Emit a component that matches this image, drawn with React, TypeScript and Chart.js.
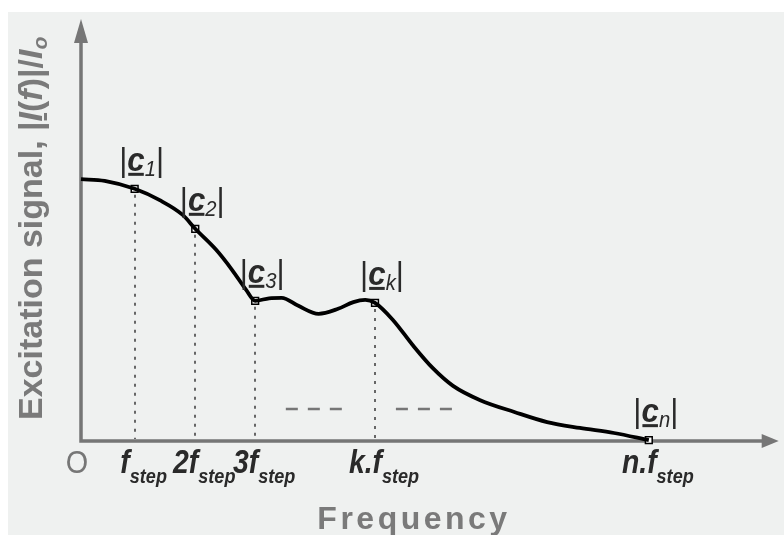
import React, { useEffect, useRef } from "react";
import { Chart, registerables } from "chart.js";

Chart.register(...registerables);

// Spectrum envelope (x in % of axis length, y in % of axis height)
const curveX = [0, 3.4, 7.7, 11.3, 14.6, 16.4, 19.4, 21.7, 23.7, 25.0, 27.0, 28.8, 31.2, 34.1, 36.9, 39.1, 40.8, 42.2, 44.8, 47.6, 50.5, 53.4, 57.3, 62.2, 66.9, 71.6, 76.5, 81.5];
const curveY = [62.2, 61.8, 59.9, 57.2, 53.7, 50.4, 45.4, 40.6, 35.9, 33.3, 33.9, 34.0, 32.1, 30.2, 31.4, 33.0, 33.5, 32.8, 28.7, 22.8, 17.3, 13.1, 9.7, 6.9, 4.5, 3.1, 1.9, 0.2];

// Harmonic sample points |c_1|, |c_2|, |c_3|, |c_k|, |c_n|
const harmonicX = [7.7, 16.4, 25.0, 42.2, 81.5];
const harmonicY = [59.9, 50.4, 33.3, 32.8, 0.2];
const harmonicSubs = ["1", "2", "3", "k", "n"];

// Tick labels: prefix + f_step
const tickPrefixes = ["", "2", "3", "k.", "n."];
const originLabel = "O";

// "- - -" ellipsis segments
const dashStartX = [29.4, 45.2];
const dashEndX = [37.8, 53.9];
const dashY = 7.6;

const xTitle = "Frequency";

const FAM = '"Liberation Sans", Arial, sans-serif';
const AXIS = "#767676";
const TXT = "#2a2a2a";
const BG = "#eff1f0";

type Run = { text: string; font: string; dy?: number; underline?: boolean };

function runsWidth(ctx: CanvasRenderingContext2D, runs: Run[]) {
  let w = 0;
  for (const r of runs) {
    ctx.font = r.font;
    w += ctx.measureText(r.text).width;
  }
  return w;
}

function drawRuns(ctx: CanvasRenderingContext2D, runs: Run[], x: number, y: number, color: string) {
  let cx = x;
  ctx.fillStyle = color;
  ctx.textAlign = "left";
  ctx.textBaseline = "alphabetic";
  for (const r of runs) {
    ctx.font = r.font;
    const w = ctx.measureText(r.text).width;
    ctx.fillText(r.text, cx, y + (r.dy || 0));
    if (r.underline) {
      ctx.fillRect(cx + 1, y + 2, w - 2, 3);
    }
    cx += w;
  }
}

const schematicPlugin = {
  id: "schematic",
  beforeDraw(chart: any) {
    const ctx = chart.ctx as CanvasRenderingContext2D;
    ctx.save();
    ctx.fillStyle = "#ffffff";
    ctx.fillRect(0, 0, chart.width, chart.height);
    ctx.fillStyle = BG;
    ctx.fillRect(8, 12, chart.width - 8, chart.height - 12);
    ctx.restore();
  },
  beforeDatasetsDraw(chart: any) {
    const ctx = chart.ctx as CanvasRenderingContext2D;
    const xs = chart.scales.x;
    const ys = chart.scales.y;
    const x0 = xs.getPixelForValue(0);
    const y0 = ys.getPixelForValue(0);
    const top = chart.chartArea.top;
    const right = chart.chartArea.right;
    ctx.save();
    // axes
    ctx.strokeStyle = AXIS;
    ctx.fillStyle = AXIS;
    ctx.lineWidth = 3.5;
    ctx.lineCap = "butt";
    ctx.beginPath();
    ctx.moveTo(x0, top + 20);
    ctx.lineTo(x0, y0);
    ctx.lineTo(right - 14, y0);
    ctx.stroke();
    // arrows
    ctx.beginPath();
    ctx.moveTo(x0, top - 1);
    ctx.lineTo(x0 - 7, top + 23);
    ctx.lineTo(x0 + 7, top + 23);
    ctx.closePath();
    ctx.fill();
    ctx.beginPath();
    ctx.moveTo(right + 1, y0);
    ctx.lineTo(right - 16, y0 - 7);
    ctx.lineTo(right - 16, y0 + 7);
    ctx.closePath();
    ctx.fill();
    // dotted verticals
    ctx.strokeStyle = "#666666";
    ctx.lineWidth = 2;
    ctx.setLineDash([3, 6]);
    for (let i = 0; i < harmonicX.length - 1; i++) {
      const px = Math.round(xs.getPixelForValue(harmonicX[i]));
      const py = ys.getPixelForValue(harmonicY[i]);
      ctx.beginPath();
      ctx.moveTo(px, py + 6);
      ctx.lineTo(px, y0 - 2);
      ctx.stroke();
    }
    // dashed ellipsis
    ctx.strokeStyle = AXIS;
    ctx.setLineDash([12, 10]);
    ctx.lineWidth = 2.5;
    for (let i = 0; i < dashStartX.length; i++) {
      const yy = Math.round(ys.getPixelForValue(dashY));
      ctx.beginPath();
      ctx.moveTo(xs.getPixelForValue(dashStartX[i]), yy);
      ctx.lineTo(xs.getPixelForValue(dashEndX[i]), yy);
      ctx.stroke();
    }
    ctx.restore();
  },
  afterDatasetsDraw(chart: any) {
    const ctx = chart.ctx as CanvasRenderingContext2D;
    const xs = chart.scales.x;
    const ys = chart.scales.y;
    const x0 = xs.getPixelForValue(0);
    const y0 = ys.getPixelForValue(0);
    ctx.save();

    // harmonic labels |c_i|
    for (let i = 0; i < harmonicX.length; i++) {
      const px = xs.getPixelForValue(harmonicX[i]);
      const py = ys.getPixelForValue(harmonicY[i]);
      const runs: Run[] = [
        { text: "|", font: `34px ${FAM}` },
        { text: "c", font: `italic bold 34px ${FAM}`, underline: true },
        { text: harmonicSubs[i], font: `italic 22px ${FAM}`, dy: 5 },
        { text: "|", font: `34px ${FAM}` },
      ];
      const w = runsWidth(ctx, runs) * 0.92;
      ctx.save();
      ctx.translate(px + 7 - w / 2, py - 18);
      ctx.scale(0.92, 1);
      drawRuns(ctx, runs, 0, 0, TXT);
      ctx.restore();
    }

    // tick labels
    const tickBase = 473;
    const sx = 0.86;
    for (let i = 0; i < harmonicX.length; i++) {
      const px = xs.getPixelForValue(harmonicX[i]);
      const runs: Run[] = [
        { text: tickPrefixes[i] + "f", font: `italic bold 33px ${FAM}` },
        { text: "step", font: `italic bold 21px ${FAM}`, dy: 10 },
      ];
      const w = runsWidth(ctx, runs) * sx;
      ctx.save();
      ctx.translate(px + 9 - w / 2, tickBase);
      ctx.scale(sx, 1);
      drawRuns(ctx, runs, 0, 0, TXT);
      ctx.restore();
    }
    // origin
    ctx.save();
    ctx.translate(x0 - 4, tickBase);
    ctx.scale(0.9, 1);
    ctx.font = `32px ${FAM}`;
    ctx.fillStyle = AXIS;
    ctx.textAlign = "center";
    ctx.fillText(originLabel, 0, 0);
    ctx.restore();

    // x title
    ctx.save();
    ctx.font = `bold 32px ${FAM}`;
    (ctx as any).letterSpacing = "3.5px";
    ctx.fillStyle = "#7a7a7a";
    ctx.textAlign = "center";
    ctx.fillText(xTitle, 414, 529);
    ctx.restore();

    // y title (rotated)
    ctx.save();
    ctx.translate(42, y0 - 21);
    ctx.rotate(-Math.PI / 2);
    const yRuns: Run[] = [
      { text: "Excitation signal, |", font: `bold 34px ${FAM}` },
      { text: "I", font: `italic bold 34px ${FAM}`, underline: true },
      { text: "(", font: `bold 34px ${FAM}` },
      { text: "f", font: `italic bold 34px ${FAM}` },
      { text: ")|/", font: `bold 34px ${FAM}` },
      { text: "I", font: `italic bold 34px ${FAM}` },
      { text: "o", font: `italic bold 21px ${FAM}`, dy: 5 },
    ];
    drawRuns(ctx, yRuns, 0, 0, "#7a7a7a");
    ctx.restore();

    ctx.restore();
  },
};

export default function App() {
  const ref = useRef<HTMLCanvasElement | null>(null);
  useEffect(() => {
    if (!ref.current) return;
    const chart = new Chart(ref.current, {
      type: "line",
      data: {
        datasets: [
          {
            data: curveX.map((x, i) => ({ x, y: curveY[i] })),
            borderColor: "#000000",
            borderWidth: 3.8,
            pointRadius: 0,
            cubicInterpolationMode: "monotone",
            fill: false,
            clip: false as any,
          },
          {
            data: harmonicX.map((x, i) => ({ x, y: harmonicY[i] })),
            showLine: false,
            pointStyle: "rect",
            pointRadius: 4.8,
            backgroundColor: "#ffffff",
            borderColor: "#000000",
            borderWidth: 1.5,
            clip: false as any,
          },
        ],
      },
      options: {
        responsive: false,
        animation: false,
        devicePixelRatio: 1,
        events: [],
        layout: { padding: { left: 81, right: 2, top: 20, bottom: 94 } },
        scales: {
          x: { type: "linear", min: 0, max: 100, display: false },
          y: { type: "linear", min: 0, max: 100, display: false },
        },
        plugins: { legend: { display: false }, tooltip: { enabled: false } },
      },
      plugins: [schematicPlugin],
    });
    return () => chart.destroy();
  }, []);
  return (
    <div style={{ position: "absolute", left: 0, top: 0, width: 784, height: 535 }}>
      <canvas ref={ref} width={784} height={535} style={{ display: "block", width: 784, height: 535 }} />
    </div>
  );
}
